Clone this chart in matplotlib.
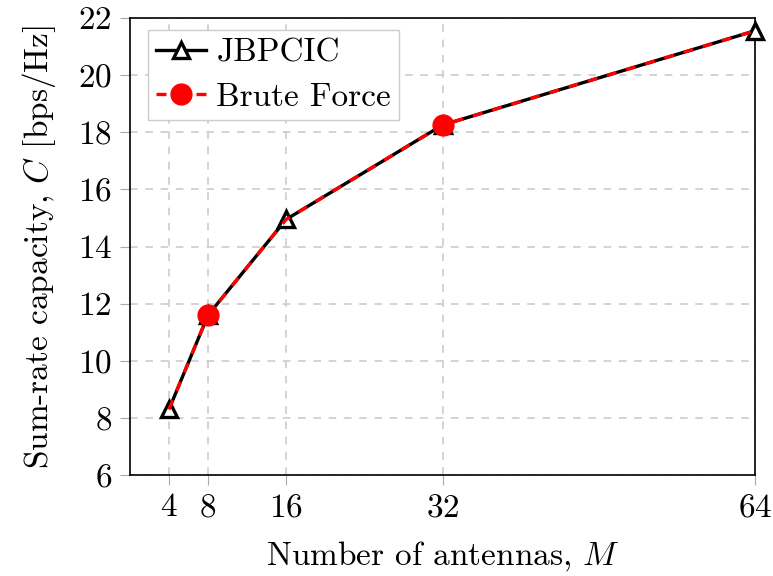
import matplotlib.pyplot as plt

plt.rcParams['font.family'] = 'cmr10'
plt.rcParams['mathtext.fontset'] = 'cm'
plt.rcParams['axes.formatter.use_mathtext'] = True

# data
antennas = [4, 8, 16, 32, 64]
jbpcic = [8.3, 11.6, 14.95, 18.25, 21.55]
brute_force = [8.3, 11.6, 14.95, 18.25, 21.55]

fig = plt.figure(figsize=(7.73, 5.76), dpi=100)
ax = fig.add_axes([0.168, 0.175, 0.809, 0.794])

ax.plot(antennas, jbpcic, color='black', linewidth=2.4, marker='^',
        markersize=11, markerfacecolor='white', markeredgecolor='black',
        markeredgewidth=2.4, label='JBPCIC', zorder=3, clip_on=False)
ax.plot(antennas, brute_force, color='red', linewidth=2.4, linestyle=(0, (3, 3)),
        marker='o', markersize=15, markevery=[1, 3], label='Brute Force',
        zorder=4, clip_on=False)

ax.set_xlim(0, 64)
ax.set_ylim(6, 22)
ax.set_xticks(antennas)
ax.set_yticks(range(6, 23, 2))
ax.grid(True, color='#c8c8c8', linestyle=(0, (5, 5)), linewidth=1.1)
ax.tick_params(labelsize=24, direction='out', length=7, color='#aaaaaa', pad=6)
for s in ax.spines.values():
    s.set_linewidth(1.2)

ax.set_xlabel('Number of antennas, $M$', fontsize=24, labelpad=12)
ax.set_ylabel('Sum-rate capacity, $C$ [bps/Hz]', fontsize=24, labelpad=14)

leg = ax.legend(loc='upper left', fontsize=24, fancybox=False, framealpha=1,
                edgecolor='#cccccc', handlelength=1.5, borderpad=0.25,
                labelspacing=0.45, handletextpad=0.3, borderaxespad=0,
                bbox_to_anchor=(0.029, 0.974))
leg.get_frame().set_linewidth(1.0)

fig.savefig('out.png', dpi=100)
